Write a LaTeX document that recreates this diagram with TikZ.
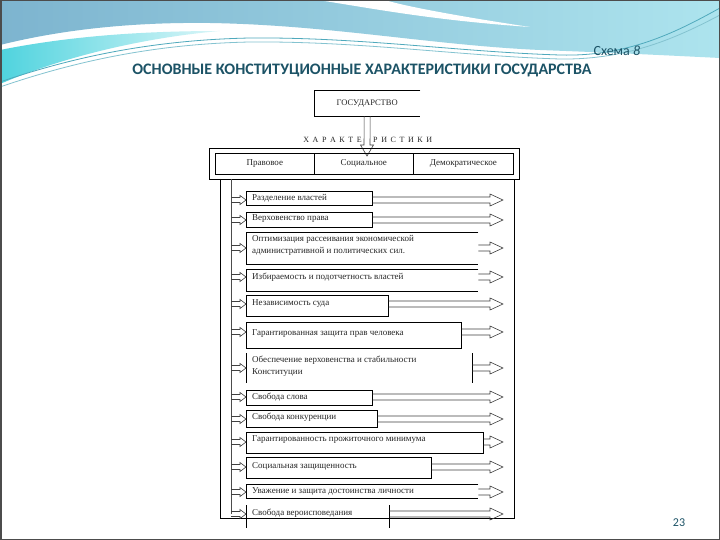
\documentclass[tikz,border=0pt]{standalone}
\usepackage{fontspec}
\setmainfont{Liberation Serif}
\newfontfamily\calib{Carlito}
\usetikzlibrary{calc}
\definecolor{ttl}{HTML}{1C5366}
\definecolor{blueA}{HTML}{7DB4CF}
\definecolor{blueB}{HTML}{8ACCDD}
\definecolor{blueC}{HTML}{ADE4EE}
\definecolor{cyanA}{HTML}{4FD3DE}
\definecolor{ribc}{HTML}{4FA9BC}
\newcommand\rarr[2]{\draw[arr] ($(#1)+(0,-3)$) -- ($(#2)+(-13,-3)$) -- ($(#2)+(-13,-6)$) -- (#2) -- ($(#2)+(-13,6)$) -- ($(#2)+(-13,3)$) -- ($(#1)+(0,3)$);}
\newcommand\larr[2]{\draw[arr] ($(#1)+(0,-2.5)$) -- ($(#2)+(-6,-2.5)$) -- ($(#2)+(-6,-4.5)$) -- (#2) -- ($(#2)+(-6,4.5)$) -- ($(#2)+(-6,2.5)$) -- ($(#1)+(0,2.5)$);}
\begin{document}
\begin{tikzpicture}[x=1pt,y=-1pt,
  boxn/.style={inner sep=0pt, anchor=north west},
  boxd/.style={boxn, draw, line width=0.7pt},
  edge/.style={line width=0.7pt},
  txt/.style={anchor=west, inner sep=0pt, align=left, font=\fontsize{9}{12}\selectfont, text=black!85},
  hd/.style={font=\fontsize{9}{11}\selectfont, text=black!85},
  arr/.style={draw=black!75, line width=0.6pt, line join=miter},
  rib/.style={draw=ribc, line width=0.8pt}]
\useasboundingbox (0,0) rectangle (720,540);
\fill[white] (0,0) rectangle (720,540);
% top decoration
\shade[left color=blueA, middle color=blueB, right color=blueC]
  (0,0) -- (720,0) -- (720,58) .. controls (680,56) and (620,53) .. (540,50)
  .. controls (430,45) and (330,25) .. (210,23) .. controls (130,22) and (60,30) .. (0,45) -- cycle;
\shade[left color=cyanA, right color=cyanA!20]
  (0,50) .. controls (60,38) and (130,31) .. (220,31) .. controls (140,38) and (60,58) .. (0,84) -- cycle;
\fill[white] (318,0) .. controls (370,8) and (430,20) .. (530,27) .. controls (450,15) and (400,5) .. (385,0) -- cycle;
\draw[rib] (0,82) .. controls (70,58) and (150,40) .. (250,38) .. controls (360,37) and (460,52) .. (560,55) .. controls (630,57) and (680,30) .. (720,8);
\draw[rib, draw=ribc!70] (0,87) .. controls (70,63) and (150,44) .. (250,42) .. controls (360,41) and (460,56) .. (560,59) .. controls (630,60) and (680,36) .. (720,15);
\draw[line width=1.5pt, black!70] (0.75,0.75) rectangle (719.25,539.25);
% titles
\node[font=\calib\fontsize{14}{16}\selectfont, text=ttl, anchor=west] (schema) at (590,51) {Схема \textit{8}};
\node[font=\calib\bfseries\fontsize{16}{18}\selectfont, text=ttl] (title) at (362,70) {ОСНОВНЫЕ КОНСТИТУЦИОННЫЕ ХАРАКТЕРИСТИКИ ГОСУДАРСТВА};
\node[font=\calib\fontsize{12}{14}\selectfont, text=ttl] (page) at (679,523) {23};
% state box
\node[boxn, minimum width=106pt, minimum height=26pt, font=\fontsize{8.5}{10}\selectfont, text=black!85] (gos) at (314,90) {\hspace{0pt}};
\node[font=\fontsize{8.5}{10}\selectfont, text=black!85] (gost) at (gos.center) {ГОСУДАРСТВО};
\draw[edge] (gos.north east) -- (gos.north west) -- (gos.south west) -- (gos.south east);
\coordinate (tip) at (367,156);
\draw[arr] ($(gos.south)+(-3,0)$) -- ($(tip)+(-3,-11)$) -- ($(tip)+(-6.5,-11)$) -- (tip) -- ($(tip)+(6.5,-11)$) -- ($(tip)+(3,-11)$) -- ($(gos.south)+(3,0)$);
\node[font=\fontsize{8}{10}\selectfont, text=black!85, anchor=east, inner sep=0pt] (ch1) at (362,140) {Х\hspace{3.6pt}А\hspace{3.6pt}Р\hspace{3.6pt}А\hspace{3.6pt}К\hspace{3.6pt}Т\hspace{3.6pt}Е};
\node[font=\fontsize{8}{10}\selectfont, text=black!85, anchor=west, inner sep=0pt] (ch2) at (373,140) {Р\hspace{3.6pt}И\hspace{3.6pt}С\hspace{3.6pt}Т\hspace{3.6pt}И\hspace{3.6pt}К\hspace{3.6pt}И};
% header
\node[boxd, minimum width=310pt, minimum height=31pt] (hdr) at (209,148) {};
\node[boxd, minimum width=99pt, minimum height=21pt, hd] (c1) at (215,153) {Правовое};
\node[boxd, minimum width=99pt, minimum height=21pt, hd] (c2) at (314,153) {Социальное};
\node[boxd, minimum width=100pt, minimum height=21pt, hd] (c3) at (413,153) {Демократическое};
% bus
\coordinate (busL) at (220,179);
\coordinate (busI) at (231,179);
\coordinate (busR) at (514,179);
\coordinate (busB) at (220,518);
\draw[edge] (busL) -- (busB) -- (busB -| busR) -- (busR);
% item coordinates
\foreach \i/\yy in {1/200,2/220,3/248,4/277,5/304,6/332,7/368,8/397,9/419,10/442,11/467,12/492,13/514}{
  \coordinate (L\i) at (231,\yy);
  \coordinate (R\i) at (503,\yy);
}
\draw[line width=0.6pt, black!70] (busI) -- (busI |- L13);
% boxes
\node[boxd, minimum width=126pt, minimum height=14pt] (b1) at (246,191) {};
\node[boxd, minimum width=126pt, minimum height=15pt] (b2) at (246,212) {};
\node[boxn, minimum width=232pt, minimum height=32pt] (b3) at (246,232) {};
\node[boxn, minimum width=232pt, minimum height=22pt] (b4) at (246,269) {};
\node[boxd, minimum width=142pt, minimum height=21pt] (b5) at (246,295) {};
\node[boxd, minimum width=215pt, minimum height=26pt] (b6) at (246,322) {};
\node[boxn, minimum width=226pt, minimum height=30pt] (b7) at (246,353) {};
\node[boxd, minimum width=126pt, minimum height=15pt] (b8) at (246,390) {};
\node[boxd, minimum width=131pt, minimum height=17pt] (b9) at (246,410) {};
\node[boxd, minimum width=237pt, minimum height=21pt] (b10) at (246,432) {};
\node[boxd, minimum width=185pt, minimum height=21pt] (b11) at (246,457) {};
\node[boxn, minimum width=232pt, minimum height=14pt] (b12) at (246,484) {};
\node[boxn, minimum width=143pt, minimum height=23pt] (b13) at (246,505) {};
\draw[edge] (b3.north east) -- (b3.north west) -- (b3.south west) -- (b3.south east);
\draw[edge] (b4.north east) -- (b4.north west) -- (b4.south west) -- (b4.south east);
\draw[edge] (b7.north west) -- (b7.south west) (b7.north east) -- (b7.south east);
\draw[edge] (b12.north east) -- (b12.north west) -- (b12.south west) -- (b12.south east);
\draw[edge] (b13.north west) -- (b13.south west) (b13.north east) -- (b13.south east);
% texts
\node[txt] (t1) at (252,198) {Разделение властей};
\node[txt] (t2) at (252,219) {Верховенство права};
\node[txt] (t3) at (252,245) {Оптимизация рассеивания экономической\\административной и политических сил.};
\node[txt] (t4) at (252,277) {Избираемость и подотчетность властей};
\node[txt] (t5) at (252,304) {Независимость суда};
\node[txt] (t6) at (252,334) {Гарантированная защита прав человека};
\node[txt] (t7) at (252,366) {Обеспечение верховенства и стабильности\\Конституции};
\node[txt] (t8) at (252,397) {Свобода слова};
\node[txt] (t9) at (252,417) {Свобода конкуренции};
\node[txt] (t10) at (252,440) {Гарантированность прожиточного минимума};
\node[txt] (t11) at (252,466) {Социальная защищенность};
\node[txt] (t12) at (252,491) {Уважение и защита достоинства личности};
\node[txt] (t13) at (252,513) {Свобода вероисповедания};
% arrows
\foreach \i in {1,...,13}{
  \larr{L\i}{b\i.west |- L\i}
  \rarr{b\i.east |- L\i}{R\i}
}
\end{tikzpicture}
\end{document}
